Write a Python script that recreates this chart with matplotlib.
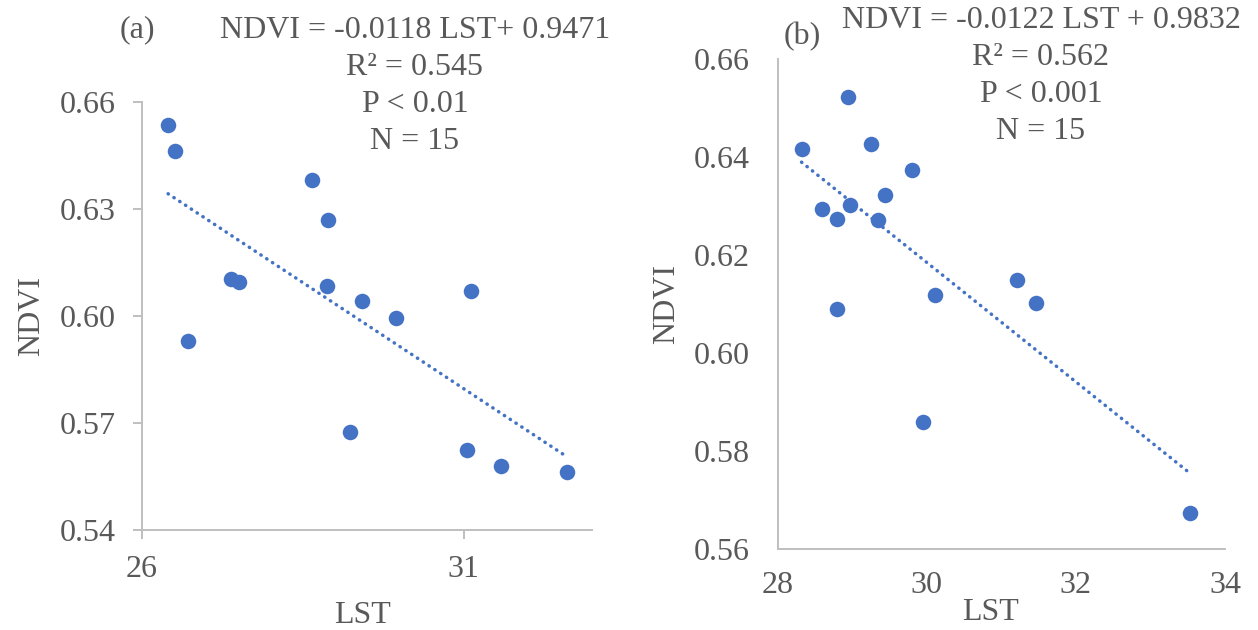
import numpy as np
import matplotlib
matplotlib.use("Agg")
import matplotlib.pyplot as plt

# panel (a)
lst_a = [26.41, 26.52, 26.72, 27.39, 27.51, 28.64, 28.89, 28.88, 29.42, 29.23,
         29.95, 31.11, 31.06, 31.58, 32.60]
ndvi_a = [0.6536, 0.6461, 0.5930, 0.6104, 0.6095, 0.6381, 0.6269, 0.6084, 0.6042, 0.5675,
          0.5995, 0.6070, 0.5625, 0.5579, 0.5563]

# panel (b)
lst_b = [28.32, 28.94, 29.25, 29.80, 29.44, 28.60, 28.97, 28.80, 29.35, 28.79,
         30.11, 31.21, 31.46, 29.95, 33.53]
ndvi_b = [0.6417, 0.6523, 0.6426, 0.6374, 0.6323, 0.6295, 0.6302, 0.6273, 0.6272, 0.6090,
          0.6118, 0.6149, 0.6103, 0.5859, 0.5673]

stats_a = "NDVI = -0.0118 LST+ 0.9471\nR² = 0.545\nP < 0.01\nN = 15"
stats_b = "NDVI = -0.0122 LST + 0.9832\nR² = 0.562\nP < 0.001\nN = 15"

blue = "#4472C4"
grey_txt = "#595959"
grey_ax = "#BFBFBF"
fs = 23

plt.rcParams['font.family'] = ['Liberation Serif', 'DejaVu Serif']

W, H = 1258, 630
fig = plt.figure(figsize=(W / 100, H / 100), dpi=100)


def px(x0, y0, x1, y1):
    # pixel box -> figure fraction [left, bottom, width, height]
    return [x0 / W, 1 - y1 / H, (x1 - x0) / W, (y1 - y0) / H]


def panel(ax, x, y, xlim, ylim, xticks, yticks, ticks_on):
    ax.scatter(x, y, s=125, color=blue, zorder=3, linewidths=0)
    k, b = np.polyfit(x, y, 1)
    xs = np.array([min(x), max(x)])
    ax.plot(xs, k * xs + b, color=blue, lw=2.5, dashes=(0.1, 1.9),
            dash_capstyle='round', zorder=2)
    ax.set_xlim(*xlim)
    ax.set_ylim(*ylim)
    ax.set_xticks(xticks)
    ax.set_yticks(yticks)
    ax.set_yticklabels(["{:.2f}".format(v) for v in yticks])
    for s in ['top', 'right']:
        ax.spines[s].set_visible(False)
    for s in ['left', 'bottom']:
        ax.spines[s].set_color(grey_ax)
        ax.spines[s].set_linewidth(1.4)
    ax.tick_params(colors=grey_ax, labelcolor=grey_txt, labelsize=fs,
                   length=6.5 if ticks_on else 0, width=1.4)
    ax.set_xlabel("LST", fontsize=fs, color=grey_txt)
    ax.set_ylabel("NDVI", fontsize=fs, color=grey_txt)


ax1 = fig.add_axes(px(141.7, 101.7, 592.3, 530.3))
panel(ax1, lst_a, ndvi_a, (26, 33), (0.54, 0.66), [26, 31],
      [0.54, 0.57, 0.60, 0.63, 0.66], True)
ax1.tick_params(axis='y', pad=12)
ax1.tick_params(axis='x', pad=11)
ax1.xaxis.set_label_coords(0.49, -0.165)
ax1.yaxis.set_label_coords(-0.212, 0.5)

ax2 = fig.add_axes(px(777.7, 59.3, 1225, 548.7))
panel(ax2, lst_b, ndvi_b, (28, 34), (0.56, 0.66), [28, 30, 32, 34],
      [0.56, 0.58, 0.60, 0.62, 0.64, 0.66], False)
ax2.tick_params(axis='y', pad=20)
ax2.tick_params(axis='x', pad=16)
ax2.xaxis.set_label_coords(0.475, -0.1)
ax2.yaxis.set_label_coords(-0.217, 0.5)

fig.text(137 / W, 1 - 30 / H, "(a)", fontsize=fs, color=grey_txt, ha='center', va='center')
fig.text(802 / W, 1 - 37 / H, "(b)", fontsize=fs, color=grey_txt, ha='center', va='center')
fig.text(415 / W, 1 - 86 / H, stats_a, fontsize=fs, color=grey_txt, ha='center',
         va='center', multialignment='center', linespacing=1.37)
fig.text(1041 / W, 1 - 76 / H, stats_b, fontsize=fs, color=grey_txt, ha='center',
         va='center', multialignment='center', linespacing=1.37)

fig.savefig("out.png", dpi=100)
